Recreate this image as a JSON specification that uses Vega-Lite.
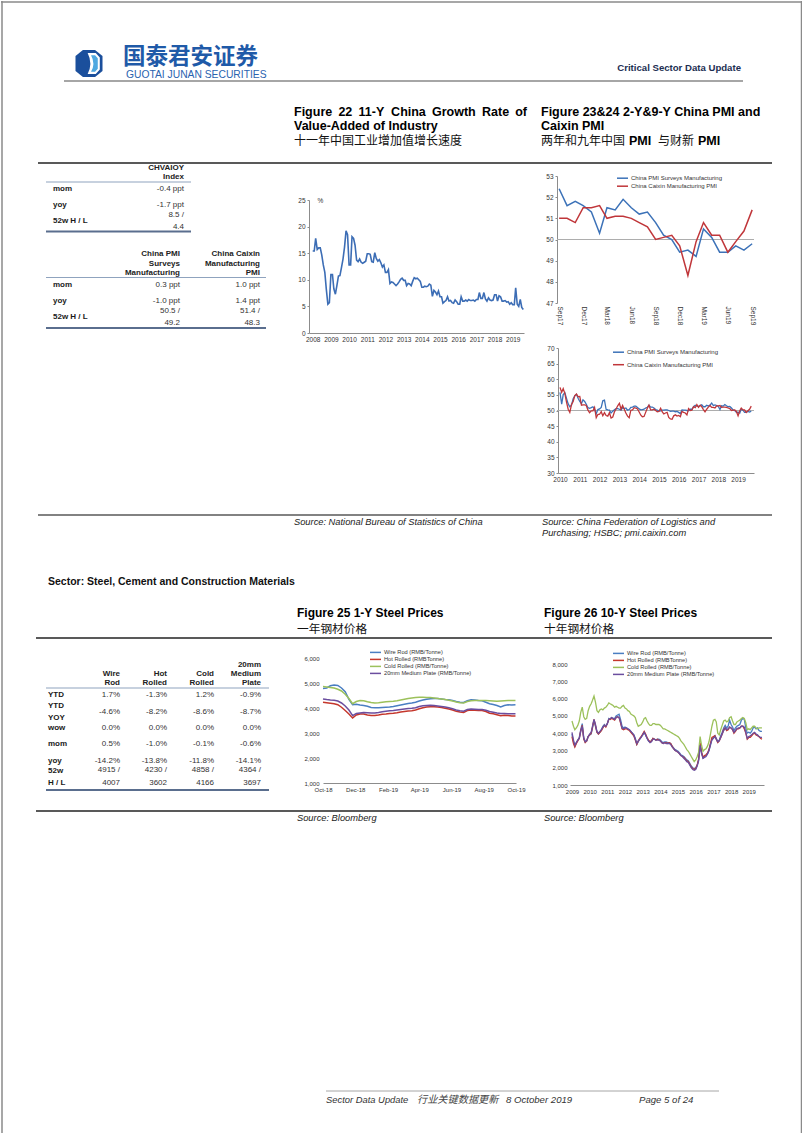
{
"$schema":"https://vega.github.io/schema/vega-lite/v6.json",
"padding":0,
"background":"#ffffff",
"columns":3,"align":"each","bounds":"flush","spacing":0,
"resolve":{"scale":{"color":"independent"},"legend":{"color":"independent"}},
"config":{
 "view":{"stroke":null},
 "font":"Liberation Sans",
 "axis":{"labelFont":"Liberation Sans","labelFontSize":6.5,"labelColor":"#333333","domainColor":"#8c8c8c","tickColor":"#8c8c8c","grid":false,"labelFlush":false,"labelOverlap":false,"labelBound":false},
 "legend":{"labelFont":"Liberation Sans"}
},
"concat":[
{
 "width":308,"height":162,
 "data":{"values":[{}]},
 "layer":[
  {"mark":{"type":"rule","color":"#8a8a8a","strokeWidth":1.5},"encoding":{"x":{"value":1},"y":{"value":0},"y2":{"value":1133}}},
  {"mark":{"type":"rule","color":"#8a8a8a","strokeWidth":1.5},"encoding":{"x":{"value":800.5},"y":{"value":0},"y2":{"value":1133}}},
  {"mark":{"type":"rule","color":"#8a8a8a","strokeWidth":1.5},"encoding":{"x":{"value":0},"x2":{"value":802},"y":{"value":1}}},
  {"mark":{"type":"point","shape":"M-0.45,-1L0.45,-1L1,-0.55L1,0.55L0.45,1L-0.45,1L-1,0.55L-1,-0.55Z","x":88,"y":62.5,"size":729,"filled":true,"fill":"#1B4F9C","opacity":1,"strokeWidth":0},"encoding":{}},
  {"mark":{"type":"point","shape":"M-0.1,-0.78L0.5,-0.78L0.8,-0.45L0.8,0.45L0.5,0.78L-0.1,0.78Q0.3,0 -0.1,-0.78Z","x":88,"y":62.5,"size":729,"filled":true,"fill":"#ffffff","opacity":1,"strokeWidth":0},"encoding":{}},
  {"mark":{"type":"point","shape":"M0.15,-0.62L0.45,-0.62L0.65,-0.38L0.65,0.38L0.45,0.62L0.15,0.62Q0.5,0 0.15,-0.62Z","x":88,"y":62.5,"size":729,"filled":true,"fill":"#4FA8E0","opacity":1,"strokeWidth":0},"encoding":{}},
  {"mark":{"type":"text","text":"国泰君安证券","x":122,"y":55.5,"align":"left","baseline":"middle","font":"Noto Sans CJK SC","fontSize":22.5,"fontWeight":"bold","fill":"#1F5AA8"},"encoding":{}},
  {"mark":{"type":"text","text":"GUOTAI JUNAN SECURITIES","x":125,"y":74,"align":"left","baseline":"middle","font":"Liberation Sans","fontSize":10.3,"fill":"#2A63AF"},"encoding":{}},
  {"mark":{"type":"text","text":"Critical Sector Data Update","x":740,"y":67,"align":"right","baseline":"middle","font":"Liberation Sans","fontSize":9.6,"fontWeight":"bold","fill":"#1C2E52"},"encoding":{}},
  {"mark":{"type":"rule","color":"#A6A6A6","strokeWidth":2},"encoding":{"x":{"value":63},"x2":{"value":742},"y":{"value":80}}},
  {"mark":{"type":"text","text":"Figure","x":293,"y":111,"align":"left","baseline":"middle","fontSize":12.5,"fontWeight":"bold","fill":"#000000"},"encoding":{}},
  {"mark":{"type":"text","text":"22","x":337.4,"y":111,"align":"left","baseline":"middle","fontSize":12.5,"fontWeight":"bold","fill":"#000000"},"encoding":{}},
  {"mark":{"type":"text","text":"11-Y","x":357.5,"y":111,"align":"left","baseline":"middle","fontSize":12.5,"fontWeight":"bold","fill":"#000000"},"encoding":{}},
  {"mark":{"type":"text","text":"China","x":390.1,"y":111,"align":"left","baseline":"middle","fontSize":12.5,"fontWeight":"bold","fill":"#000000"},"encoding":{}},
  {"mark":{"type":"text","text":"Growth","x":431,"y":111,"align":"left","baseline":"middle","fontSize":12.5,"fontWeight":"bold","fill":"#000000"},"encoding":{}},
  {"mark":{"type":"text","text":"Rate","x":481,"y":111,"align":"left","baseline":"middle","fontSize":12.5,"fontWeight":"bold","fill":"#000000"},"encoding":{}},
  {"mark":{"type":"text","text":"of","x":526,"y":111,"align":"right","baseline":"middle","fontSize":12.5,"fontWeight":"bold","fill":"#000000"},"encoding":{}},
  {"mark":{"type":"text","text":"Value-Added of Industry","x":293,"y":125,"align":"left","baseline":"middle","fontSize":12.5,"fontWeight":"bold","fill":"#000000"},"encoding":{}},
  {"mark":{"type":"text","text":"十一年中国工业增加值增长速度","x":293,"y":140,"align":"left","baseline":"middle","font":"Noto Sans CJK SC","fontSize":12,"fill":"#111111"},"encoding":{}},
  {"mark":{"type":"text","text":"Figure 23&24 2-Y&9-Y China PMI and","x":540,"y":111,"align":"left","baseline":"middle","fontSize":12.5,"fontWeight":"bold","fill":"#000000"},"encoding":{}},
  {"mark":{"type":"text","text":"Caixin PMI","x":540,"y":125,"align":"left","baseline":"middle","fontSize":12.5,"fontWeight":"bold","fill":"#000000"},"encoding":{}},
  {"mark":{"type":"text","text":"两年和九年中国","x":540,"y":140,"align":"left","baseline":"middle","font":"Noto Sans CJK SC","fontSize":12,"fill":"#111111"},"encoding":{}},
  {"mark":{"type":"text","text":"PMI","x":628,"y":140,"align":"left","baseline":"middle","fontSize":12.5,"fontWeight":"bold","fill":"#000000"},"encoding":{}},
  {"mark":{"type":"text","text":"与财新","x":657,"y":140,"align":"left","baseline":"middle","font":"Noto Sans CJK SC","fontSize":12,"fill":"#111111"},"encoding":{}},
  {"mark":{"type":"text","text":"PMI","x":697,"y":140,"align":"left","baseline":"middle","fontSize":12.5,"fontWeight":"bold","fill":"#000000"},"encoding":{}},
  {"mark":{"type":"rule","color":"#595959","strokeWidth":2},"encoding":{"x":{"value":37},"x2":{"value":771},"y":{"value":162}}}
 ]
},
{"width":248,"height":1,"data":{"values":[]},"mark":"point"},
{"width":1,"height":1,"data":{"values":[]},"mark":"point"},
{
 "width":308,"height":173,
 "data":{"values":[
  {"k":"h","tb":1,"r":"h1","c":"c1","t":"CHVAIOY\nIndex"},
  {"k":"l","r":"t1a","t":"mom"},{"k":"l","r":"t1b","t":"yoy"},{"k":"l","r":"t1c","t":"52w H / L"},
  {"k":"v","tb":1,"r":"t1a","c":"c1","t":"-0.4 ppt"},{"k":"v","tb":1,"r":"t1b","c":"c1","t":"-1.7 ppt"},{"k":"v","tb":1,"r":"t1c","c":"c1","t":"8.5 /\n4.4"},
  {"k":"h","tb":2,"r":"h2","c":"c1","t":"China PMI\nSurveys\nManufacturing"},{"k":"h","tb":2,"r":"h2","c":"c2","t":"China Caixin\nManufacturing\nPMI"},
  {"k":"l","r":"t2a","t":"mom"},{"k":"l","r":"t2b","t":"yoy"},{"k":"l","r":"t2c","t":"52w H / L"},
  {"k":"v","tb":2,"r":"t2a","c":"c1","t":"0.3 ppt"},{"k":"v","tb":2,"r":"t2a","c":"c2","t":"1.0 ppt"},
  {"k":"v","tb":2,"r":"t2b","c":"c1","t":"-1.0 ppt"},{"k":"v","tb":2,"r":"t2b","c":"c2","t":"1.4 ppt"},
  {"k":"v","tb":2,"r":"t2c","c":"c1","t":"50.5 /\n49.2"},{"k":"v","tb":2,"r":"t2c","c":"c2","t":"51.4 /\n48.3"}
 ]},
 "layer":[
  {"transform":[{"filter":"datum.k=='h' && datum.tb==1"}],
   "mark":{"type":"text","align":"right","baseline":"bottom","dx":4,"dy":-9.2,"fontSize":8,"fontWeight":"bold","lineHeight":9.2,"lineBreak":"\n","fill":"#222222"},
   "encoding":{"x":{"field":"c","type":"nominal","scale":{"type":"point","domain":["c1","c2"],"range":[179,259],"padding":0},"axis":null},
    "y":{"field":"r","type":"nominal","bandPosition":1,"scale":{"type":"band","domain":["h1","t1a","t1b","t1c","g1","g2","h2","t2a","t2b","t2c"],"range":[2,162],"paddingInner":0,"paddingOuter":0},"axis":null},
    "text":{"field":"t"}}},
  {"transform":[{"filter":"datum.k=='h' && datum.tb==2"}],
   "mark":{"type":"text","align":"right","baseline":"bottom","dy":-19,"fontSize":8,"fontWeight":"bold","lineHeight":9.5,"lineBreak":"\n","fill":"#222222"},
   "encoding":{"x":{"field":"c","type":"nominal","scale":{"type":"point","domain":["c1","c2"],"range":[179,259],"padding":0},"axis":null},
    "y":{"field":"r","type":"nominal","bandPosition":1,"scale":{"type":"band","domain":["h1","t1a","t1b","t1c","g1","g2","h2","t2a","t2b","t2c"],"range":[2,162],"paddingInner":0,"paddingOuter":0},"axis":null},
    "text":{"field":"t"}}},
  {"transform":[{"filter":"datum.k=='l'"}],
   "mark":{"type":"text","align":"left","baseline":"middle","x":52,"fontSize":8,"fontWeight":"bold","fill":"#1a1a1a"},
   "encoding":{"y":{"field":"r","type":"nominal","scale":{"type":"band","domain":["h1","t1a","t1b","t1c","g1","g2","h2","t2a","t2b","t2c"],"range":[2,162],"paddingInner":0,"paddingOuter":0},"axis":null},
    "text":{"field":"t"}}},
  {"transform":[{"filter":"datum.k=='v' && datum.tb==1 && indexof(datum.t,'\\n')<0"}],
   "mark":{"type":"text","align":"right","baseline":"middle","dx":4,"fontSize":8,"fill":"#333333"},
   "encoding":{"x":{"field":"c","type":"nominal","scale":{"type":"point","domain":["c1","c2"],"range":[179,259],"padding":0},"axis":null},
    "y":{"field":"r","type":"nominal","scale":{"type":"band","domain":["h1","t1a","t1b","t1c","g1","g2","h2","t2a","t2b","t2c"],"range":[2,162],"paddingInner":0,"paddingOuter":0},"axis":null},
    "text":{"field":"t"}}},
  {"transform":[{"filter":"datum.k=='v' && datum.tb==1 && indexof(datum.t,'\\n')>=0"}],
   "mark":{"type":"text","align":"right","baseline":"middle","dx":4,"dy":-6,"fontSize":8,"lineHeight":12,"lineBreak":"\n","fill":"#333333"},
   "encoding":{"x":{"field":"c","type":"nominal","scale":{"type":"point","domain":["c1","c2"],"range":[179,259],"padding":0},"axis":null},
    "y":{"field":"r","type":"nominal","scale":{"type":"band","domain":["h1","t1a","t1b","t1c","g1","g2","h2","t2a","t2b","t2c"],"range":[2,162],"paddingInner":0,"paddingOuter":0},"axis":null},
    "text":{"field":"t"}}},
  {"transform":[{"filter":"datum.k=='v' && datum.tb==2 && indexof(datum.t,'\\n')<0"}],
   "mark":{"type":"text","align":"right","baseline":"middle","fontSize":8,"fill":"#333333"},
   "encoding":{"x":{"field":"c","type":"nominal","scale":{"type":"point","domain":["c1","c2"],"range":[179,259],"padding":0},"axis":null},
    "y":{"field":"r","type":"nominal","scale":{"type":"band","domain":["h1","t1a","t1b","t1c","g1","g2","h2","t2a","t2b","t2c"],"range":[2,162],"paddingInner":0,"paddingOuter":0},"axis":null},
    "text":{"field":"t"}}},
  {"transform":[{"filter":"datum.k=='v' && datum.tb==2 && indexof(datum.t,'\\n')>=0"}],
   "mark":{"type":"text","align":"right","baseline":"middle","dy":-6,"fontSize":8,"lineHeight":12,"lineBreak":"\n","fill":"#333333"},
   "encoding":{"x":{"field":"c","type":"nominal","scale":{"type":"point","domain":["c1","c2"],"range":[179,259],"padding":0},"axis":null},
    "y":{"field":"r","type":"nominal","scale":{"type":"band","domain":["h1","t1a","t1b","t1c","g1","g2","h2","t2a","t2b","t2c"],"range":[2,162],"paddingInner":0,"paddingOuter":0},"axis":null},
    "text":{"field":"t"}}},
  {"data":{"values":[{}]},"mark":{"type":"rule","color":"#8FA3BE","strokeWidth":1},"encoding":{"x":{"value":45},"x2":{"value":190},"y":{"value":19}}},
  {"data":{"values":[{}]},"mark":{"type":"rule","color":"#5A6E8E","strokeWidth":2},"encoding":{"x":{"value":45},"x2":{"value":190},"y":{"value":68.5}}},
  {"data":{"values":[{}]},"mark":{"type":"rule","color":"#8FA3BE","strokeWidth":1},"encoding":{"x":{"value":45},"x2":{"value":265},"y":{"value":114.5}}},
  {"data":{"values":[{}]},"mark":{"type":"rule","color":"#5A6E8E","strokeWidth":2},"encoding":{"x":{"value":45},"x2":{"value":265},"y":{"value":165}}}
 ]
},
{
 "width":215,"height":170,
 "data":{"values":[
{"d":"2008-01","v":15.4},{"d":"2008-02","v":15.4},{"d":"2008-03","v":17.8},{"d":"2008-04","v":15.7},{"d":"2008-05","v":16.0},{"d":"2008-06","v":16.0},{"d":"2008-07","v":14.7},{"d":"2008-08","v":12.8},{"d":"2008-09","v":11.4},{"d":"2008-10","v":8.2},{"d":"2008-11","v":5.4},{"d":"2008-12","v":5.7},
{"d":"2009-01","v":11.0},{"d":"2009-02","v":11.0},{"d":"2009-03","v":8.3},{"d":"2009-04","v":7.3},{"d":"2009-05","v":8.9},{"d":"2009-06","v":10.7},{"d":"2009-07","v":10.8},{"d":"2009-08","v":12.3},{"d":"2009-09","v":13.9},{"d":"2009-10","v":16.1},{"d":"2009-11","v":19.2},{"d":"2009-12","v":18.5},
{"d":"2010-01","v":12.8},{"d":"2010-02","v":12.8},{"d":"2010-03","v":18.1},{"d":"2010-04","v":17.8},{"d":"2010-05","v":16.5},{"d":"2010-06","v":13.7},{"d":"2010-07","v":13.4},{"d":"2010-08","v":13.9},{"d":"2010-09","v":13.3},{"d":"2010-10","v":13.1},{"d":"2010-11","v":13.3},{"d":"2010-12","v":13.5},
{"d":"2011-01","v":14.9},{"d":"2011-02","v":14.9},{"d":"2011-03","v":14.8},{"d":"2011-04","v":13.4},{"d":"2011-05","v":13.3},{"d":"2011-06","v":15.1},{"d":"2011-07","v":14.0},{"d":"2011-08","v":13.5},{"d":"2011-09","v":13.8},{"d":"2011-10","v":13.2},{"d":"2011-11","v":12.4},{"d":"2011-12","v":12.8},
{"d":"2012-01","v":11.4},{"d":"2012-02","v":11.4},{"d":"2012-03","v":11.9},{"d":"2012-04","v":9.3},{"d":"2012-05","v":9.6},{"d":"2012-06","v":9.5},{"d":"2012-07","v":9.2},{"d":"2012-08","v":8.9},{"d":"2012-09","v":9.2},{"d":"2012-10","v":9.6},{"d":"2012-11","v":10.1},{"d":"2012-12","v":10.3},
{"d":"2013-01","v":9.9},{"d":"2013-02","v":9.9},{"d":"2013-03","v":8.9},{"d":"2013-04","v":9.3},{"d":"2013-05","v":9.2},{"d":"2013-06","v":8.9},{"d":"2013-07","v":9.7},{"d":"2013-08","v":10.4},{"d":"2013-09","v":10.2},{"d":"2013-10","v":10.3},{"d":"2013-11","v":10.0},{"d":"2013-12","v":9.7},
{"d":"2014-01","v":8.6},{"d":"2014-02","v":8.6},{"d":"2014-03","v":8.8},{"d":"2014-04","v":8.7},{"d":"2014-05","v":8.8},{"d":"2014-06","v":9.2},{"d":"2014-07","v":9.0},{"d":"2014-08","v":6.9},{"d":"2014-09","v":8.0},{"d":"2014-10","v":7.7},{"d":"2014-11","v":7.2},{"d":"2014-12","v":7.9},
{"d":"2015-01","v":6.8},{"d":"2015-02","v":6.8},{"d":"2015-03","v":5.6},{"d":"2015-04","v":5.9},{"d":"2015-05","v":6.1},{"d":"2015-06","v":6.8},{"d":"2015-07","v":6.0},{"d":"2015-08","v":6.1},{"d":"2015-09","v":5.7},{"d":"2015-10","v":5.6},{"d":"2015-11","v":6.2},{"d":"2015-12","v":5.9},
{"d":"2016-01","v":5.4},{"d":"2016-02","v":5.4},{"d":"2016-03","v":6.8},{"d":"2016-04","v":6.0},{"d":"2016-05","v":6.0},{"d":"2016-06","v":6.2},{"d":"2016-07","v":6.0},{"d":"2016-08","v":6.3},{"d":"2016-09","v":6.1},{"d":"2016-10","v":6.1},{"d":"2016-11","v":6.2},{"d":"2016-12","v":6.0},
{"d":"2017-01","v":6.3},{"d":"2017-02","v":6.3},{"d":"2017-03","v":7.6},{"d":"2017-04","v":6.5},{"d":"2017-05","v":6.5},{"d":"2017-06","v":7.6},{"d":"2017-07","v":6.4},{"d":"2017-08","v":6.0},{"d":"2017-09","v":6.6},{"d":"2017-10","v":6.2},{"d":"2017-11","v":6.1},{"d":"2017-12","v":6.2},
{"d":"2018-01","v":7.2},{"d":"2018-02","v":7.2},{"d":"2018-03","v":6.0},{"d":"2018-04","v":7.0},{"d":"2018-05","v":6.8},{"d":"2018-06","v":6.0},{"d":"2018-07","v":6.0},{"d":"2018-08","v":6.1},{"d":"2018-09","v":5.8},{"d":"2018-10","v":5.9},{"d":"2018-11","v":5.4},{"d":"2018-12","v":5.7},
{"d":"2019-01","v":5.3},{"d":"2019-02","v":5.3},{"d":"2019-03","v":8.5},{"d":"2019-04","v":5.4},{"d":"2019-05","v":5.0},{"d":"2019-06","v":6.3},{"d":"2019-07","v":4.8},{"d":"2019-08","v":4.4}
 ],"format":{"parse":{"d":"date:'%Y-%m'"}}},
 "mark":{"type":"line","color":"#3C6DB5","strokeWidth":1.6},
 "encoding":{
  "x":{"field":"d","type":"temporal","scale":{"domain":[{"year":2007,"month":10,"date":19},{"year":2019,"month":8,"date":15}]},
   "axis":{"title":null,"format":"%Y","tickCount":{"interval":"year","step":1},"ticks":false,"labelPadding":3}},
  "y":{"field":"v","type":"quantitative","scale":{"domain":[0,25],"range":[170,37]},
   "axis":{"title":"%","titleAngle":0,"titleX":8,"titleY":37,"titleAlign":"left","titleBaseline":"middle","titleFontSize":6.5,"titleFontWeight":"normal","titleFont":"Liberation Sans","titleColor":"#333333","values":[0,5,10,15,20,25],"tickSize":2,"labelPadding":2}}
 }
},
{
 "width":197,"height":140,
 "layer":[
  {"data":{"values":[{}]},"mark":{"type":"rule","color":"#ADADAD","strokeWidth":1},
   "encoding":{"y":{"datum":50,"type":"quantitative","scale":{"domain":[47,53],"range":[140,13]},"axis":{"title":null,"values":[47,48,49,50,51,52,53],"tickSize":2,"labelPadding":2}}}},
  {"data":{"values":[
{"d":"2017-09","p":52.4,"c":51.0},{"d":"2017-10","p":51.6,"c":51.0},{"d":"2017-11","p":51.8,"c":50.8},{"d":"2017-12","p":51.6,"c":51.5},
{"d":"2018-01","p":51.3,"c":51.5},{"d":"2018-02","p":50.3,"c":51.6},{"d":"2018-03","p":51.5,"c":51.0},{"d":"2018-04","p":51.4,"c":51.1},{"d":"2018-05","p":51.9,"c":51.1},{"d":"2018-06","p":51.5,"c":51.0},{"d":"2018-07","p":51.2,"c":50.8},{"d":"2018-08","p":51.3,"c":50.6},{"d":"2018-09","p":50.8,"c":50.0},{"d":"2018-10","p":50.2,"c":50.1},{"d":"2018-11","p":50.0,"c":50.2},{"d":"2018-12","p":49.4,"c":49.7},
{"d":"2019-01","p":49.5,"c":48.3},{"d":"2019-02","p":49.2,"c":49.9},{"d":"2019-03","p":50.5,"c":50.8},{"d":"2019-04","p":50.1,"c":50.2},{"d":"2019-05","p":49.4,"c":50.2},{"d":"2019-06","p":49.4,"c":49.4},{"d":"2019-07","p":49.7,"c":49.9},{"d":"2019-08","p":49.5,"c":50.4},{"d":"2019-09","p":49.8,"c":51.4}
   ],"format":{"parse":{"d":"date:'%Y-%m'"}}},
   "transform":[{"fold":["p","c"],"as":["s","v"]}],
   "mark":{"type":"line","strokeWidth":1.5},
   "encoding":{
    "x":{"field":"d","type":"temporal","scale":{"domain":[{"year":2017,"month":8,"date":24},{"year":2019,"month":9,"date":8}]},
     "axis":{"title":null,"format":"%b%y","values":[{"year":2017,"month":9,"date":1},{"year":2017,"month":12,"date":1},{"year":2018,"month":3,"date":1},{"year":2018,"month":6,"date":1},{"year":2018,"month":9,"date":1},{"year":2018,"month":12,"date":1},{"year":2019,"month":3,"date":1},{"year":2019,"month":6,"date":1},{"year":2019,"month":9,"date":1}],"labelAngle":90,"labelAlign":"left","labelBaseline":"middle","labelPadding":3,"domain":false,"ticks":false}},
    "y":{"field":"v","type":"quantitative","scale":{"domain":[47,53],"range":[140,13]},"axis":{"title":null,"values":[47,48,49,50,51,52,53],"tickSize":2,"labelPadding":2}},
    "color":{"field":"s","type":"nominal","scale":{"domain":["p","c"],"range":["#3C72B8","#C0363A"]},
     "legend":{"title":null,"orient":"none","legendX":64,"legendY":11.2,"direction":"vertical","symbolType":"M-2.67,0L1,0","symbolSize":36,"symbolStrokeWidth":1.5,"labelFontSize":6,"labelColor":"#333333","rowPadding":1,"labelOffset":2,"padding":0,
      "labelExpr":"datum.label == 'p' ? 'China PMI Surveys Manufacturing' : 'China Caixin Manufacturing PMI'"}}
   }}
 ]
},
{"width":1,"height":180,"data":{"values":[]},"mark":"point"},
{"width":1,"height":1,"data":{"values":[]},"mark":"point"},
{
 "width":197,"height":137,
 "layer":[
  {"data":{"values":[{}]},"mark":{"type":"rule","color":"#ADADAD","strokeWidth":1},
   "encoding":{"y":{"datum":50,"type":"quantitative","scale":{"domain":[30,70],"range":[137,12]},"axis":{"title":null,"values":[30,35,40,45,50,55,60,65,70],"tickSize":2,"labelPadding":2,"offset":-1}}}},
  {"data":{"values":[
{"d":"2010-01","p":55.8,"c":57.4},{"d":"2010-02","p":52.0,"c":55.8},{"d":"2010-03","p":55.1,"c":57.0},{"d":"2010-04","p":55.7,"c":55.4},{"d":"2010-05","p":53.9,"c":52.7},{"d":"2010-06","p":52.1,"c":50.4},{"d":"2010-07","p":51.2,"c":49.4},{"d":"2010-08","p":51.7,"c":51.9},{"d":"2010-09","p":53.8,"c":52.9},{"d":"2010-10","p":54.7,"c":54.8},{"d":"2010-11","p":55.2,"c":55.3},{"d":"2010-12","p":53.9,"c":54.4},
{"d":"2011-01","p":52.9,"c":54.5},{"d":"2011-02","p":52.2,"c":51.7},{"d":"2011-03","p":53.4,"c":51.8},{"d":"2011-04","p":52.9,"c":51.8},{"d":"2011-05","p":52.0,"c":51.6},{"d":"2011-06","p":50.9,"c":50.1},{"d":"2011-07","p":50.7,"c":49.3},{"d":"2011-08","p":50.9,"c":49.9},{"d":"2011-09","p":51.2,"c":49.9},{"d":"2011-10","p":50.4,"c":51.0},{"d":"2011-11","p":49.0,"c":47.7},{"d":"2011-12","p":50.3,"c":48.7},
{"d":"2012-01","p":50.5,"c":48.8},{"d":"2012-02","p":51.0,"c":49.6},{"d":"2012-03","p":53.1,"c":48.3},{"d":"2012-04","p":53.3,"c":49.3},{"d":"2012-05","p":50.4,"c":48.4},{"d":"2012-06","p":50.2,"c":48.2},{"d":"2012-07","p":50.1,"c":49.3},{"d":"2012-08","p":49.2,"c":47.6},{"d":"2012-09","p":49.8,"c":47.9},{"d":"2012-10","p":50.2,"c":49.5},{"d":"2012-11","p":50.6,"c":50.5},{"d":"2012-12","p":50.6,"c":51.5},
{"d":"2013-01","p":50.4,"c":52.3},{"d":"2013-02","p":50.1,"c":50.4},{"d":"2013-03","p":50.9,"c":51.6},{"d":"2013-04","p":50.6,"c":50.4},{"d":"2013-05","p":50.8,"c":49.2},{"d":"2013-06","p":50.1,"c":48.2},{"d":"2013-07","p":50.3,"c":47.7},{"d":"2013-08","p":51.0,"c":50.1},{"d":"2013-09","p":51.1,"c":50.2},{"d":"2013-10","p":51.4,"c":50.9},{"d":"2013-11","p":51.4,"c":50.8},{"d":"2013-12","p":51.0,"c":50.5},
{"d":"2014-01","p":50.5,"c":49.5},{"d":"2014-02","p":50.2,"c":48.5},{"d":"2014-03","p":50.3,"c":48.0},{"d":"2014-04","p":50.4,"c":48.1},{"d":"2014-05","p":50.8,"c":49.4},{"d":"2014-06","p":51.0,"c":50.7},{"d":"2014-07","p":51.7,"c":51.7},{"d":"2014-08","p":51.1,"c":50.2},{"d":"2014-09","p":51.1,"c":50.2},{"d":"2014-10","p":50.8,"c":50.4},{"d":"2014-11","p":50.3,"c":50.0},{"d":"2014-12","p":50.1,"c":49.6},
{"d":"2015-01","p":49.8,"c":49.7},{"d":"2015-02","p":49.9,"c":50.7},{"d":"2015-03","p":50.1,"c":49.6},{"d":"2015-04","p":50.1,"c":48.9},{"d":"2015-05","p":50.2,"c":49.2},{"d":"2015-06","p":50.2,"c":49.4},{"d":"2015-07","p":50.0,"c":47.8},{"d":"2015-08","p":49.7,"c":47.3},{"d":"2015-09","p":49.8,"c":47.2},{"d":"2015-10","p":49.8,"c":48.3},{"d":"2015-11","p":49.6,"c":48.6},{"d":"2015-12","p":49.7,"c":48.2},
{"d":"2016-01","p":49.4,"c":48.4},{"d":"2016-02","p":49.0,"c":48.0},{"d":"2016-03","p":50.2,"c":49.7},{"d":"2016-04","p":50.1,"c":49.4},{"d":"2016-05","p":50.1,"c":49.2},{"d":"2016-06","p":50.0,"c":48.6},{"d":"2016-07","p":49.9,"c":50.6},{"d":"2016-08","p":50.4,"c":50.0},{"d":"2016-09","p":50.4,"c":50.1},{"d":"2016-10","p":51.2,"c":51.2},{"d":"2016-11","p":51.7,"c":50.9},{"d":"2016-12","p":51.4,"c":51.9},
{"d":"2017-01","p":51.3,"c":51.0},{"d":"2017-02","p":51.6,"c":51.7},{"d":"2017-03","p":51.8,"c":51.2},{"d":"2017-04","p":51.2,"c":50.3},{"d":"2017-05","p":51.2,"c":49.6},{"d":"2017-06","p":51.7,"c":50.4},{"d":"2017-07","p":51.4,"c":51.1},{"d":"2017-08","p":51.7,"c":51.6},{"d":"2017-09","p":52.4,"c":51.0},{"d":"2017-10","p":51.6,"c":51.0},{"d":"2017-11","p":51.8,"c":50.8},{"d":"2017-12","p":51.6,"c":51.5},
{"d":"2018-01","p":51.3,"c":51.5},{"d":"2018-02","p":50.3,"c":51.6},{"d":"2018-03","p":51.5,"c":51.0},{"d":"2018-04","p":51.4,"c":51.1},{"d":"2018-05","p":51.9,"c":51.1},{"d":"2018-06","p":51.5,"c":51.0},{"d":"2018-07","p":51.2,"c":50.8},{"d":"2018-08","p":51.3,"c":50.6},{"d":"2018-09","p":50.8,"c":50.0},{"d":"2018-10","p":50.2,"c":50.1},{"d":"2018-11","p":50.0,"c":50.2},{"d":"2018-12","p":49.4,"c":49.7},
{"d":"2019-01","p":49.5,"c":48.3},{"d":"2019-02","p":49.2,"c":49.9},{"d":"2019-03","p":50.5,"c":50.8},{"d":"2019-04","p":50.1,"c":50.2},{"d":"2019-05","p":49.4,"c":50.2},{"d":"2019-06","p":49.4,"c":49.4},{"d":"2019-07","p":49.7,"c":49.9},{"d":"2019-08","p":49.5,"c":50.4},{"d":"2019-09","p":49.8,"c":51.4}
   ],"format":{"parse":{"d":"date:'%Y-%m'"}}},
   "transform":[{"fold":["p","c"],"as":["s","v"]}],
   "mark":{"type":"line","strokeWidth":1.3},
   "encoding":{
    "x":{"field":"d","type":"temporal","scale":{"domain":[{"year":2009,"month":11,"date":25},{"year":2019,"month":10,"date":22}],"range":[1,197]},
     "axis":{"title":null,"format":"%Y","tickCount":{"interval":"year","step":1},"ticks":false,"labelPadding":3}},
    "y":{"field":"v","type":"quantitative","scale":{"domain":[30,70],"range":[137,12]},"axis":{"title":null,"values":[30,35,40,45,50,55,60,65,70],"tickSize":2,"labelPadding":2,"offset":-1}},
    "color":{"field":"s","type":"nominal","scale":{"domain":["p","c"],"range":["#3C72B8","#C0363A"]},
     "legend":{"title":null,"orient":"none","legendX":60,"legendY":12.2,"direction":"vertical","symbolType":"M-2.67,0L1,0","symbolSize":36,"symbolStrokeWidth":1.5,"labelFontSize":6,"labelColor":"#333333","rowPadding":5.5,"labelOffset":2,"padding":0,
      "labelExpr":"datum.label == 'p' ? 'China PMI Surveys Manufacturing' : 'China Caixin Manufacturing PMI'"}}
   }}
 ]
},
{
 "width":308,"height":122,
 "data":{"values":[{}]},
 "layer":[
  {"mark":{"type":"rule","color":"#595959","strokeWidth":1.5},"encoding":{"x":{"value":37},"x2":{"value":771},"y":{"value":-1}}},
  {"mark":{"type":"text","text":"Source: National Bureau of Statistics of China","x":293,"y":5.5,"align":"left","baseline":"middle","fontSize":9.3,"fontStyle":"italic","fill":"#222222"},"encoding":{}},
  {"mark":{"type":"text","text":"Source: China Federation of Logistics and","x":541,"y":5.5,"align":"left","baseline":"middle","fontSize":9.3,"fontStyle":"italic","fill":"#222222"},"encoding":{}},
  {"mark":{"type":"text","text":"Purchasing; HSBC; pmi.caixin.com","x":541,"y":16.5,"align":"left","baseline":"middle","fontSize":9.3,"fontStyle":"italic","fill":"#222222"},"encoding":{}},
  {"mark":{"type":"text","text":"Sector: Steel, Cement and Construction Materials","x":47,"y":66,"align":"left","baseline":"middle","fontSize":10.5,"fontWeight":"bold","fill":"#111111"},"encoding":{}},
  {"mark":{"type":"text","text":"Figure 25 1-Y Steel Prices","x":296,"y":97,"align":"left","baseline":"middle","fontSize":12,"fontWeight":"bold","fill":"#000000"},"encoding":{}},
  {"mark":{"type":"text","text":"一年钢材价格","x":296,"y":113,"align":"left","baseline":"middle","font":"Noto Sans CJK SC","fontSize":11.7,"fill":"#111111"},"encoding":{}},
  {"mark":{"type":"text","text":"Figure 26 10-Y Steel Prices","x":543,"y":97,"align":"left","baseline":"middle","fontSize":12,"fontWeight":"bold","fill":"#000000"},"encoding":{}},
  {"mark":{"type":"text","text":"十年钢材价格","x":543,"y":113,"align":"left","baseline":"middle","font":"Noto Sans CJK SC","fontSize":11.7,"fill":"#111111"},"encoding":{}},
  {"mark":{"type":"rule","color":"#595959","strokeWidth":2},"encoding":{"x":{"value":35},"x2":{"value":771},"y":{"value":122}}}
 ]
},
{"width":1,"height":1,"data":{"values":[]},"mark":"point"},
{"width":1,"height":1,"data":{"values":[]},"mark":"point"},
{
 "width":308,"height":173,
 "data":{"values":[
  {"k":"h","r":"h","c":"wr","t":"Wire\nRod"},{"k":"h","r":"h","c":"hr","t":"Hot\nRolled"},{"k":"h","r":"h","c":"cr","t":"Cold\nRolled"},{"k":"h","r":"h","c":"mp","t":"20mm\nMedium\nPlate"},
  {"k":"l","r":"YTD","t":"YTD"},{"k":"l","r":"YTDYOY","t":"YTD\nYOY"},{"k":"l","r":"wow","t":"wow"},{"k":"l","r":"mom","t":"mom"},{"k":"l","r":"yoy","t":"yoy"},{"k":"l","r":"52w","t":"52w\nH / L"},
  {"k":"v","r":"YTD","c":"wr","t":"1.7%"},{"k":"v","r":"YTD","c":"hr","t":"-1.3%"},{"k":"v","r":"YTD","c":"cr","t":"1.2%"},{"k":"v","r":"YTD","c":"mp","t":"-0.9%"},
  {"k":"v","r":"YTDYOY","c":"wr","t":"-4.6%"},{"k":"v","r":"YTDYOY","c":"hr","t":"-8.2%"},{"k":"v","r":"YTDYOY","c":"cr","t":"-8.6%"},{"k":"v","r":"YTDYOY","c":"mp","t":"-8.7%"},
  {"k":"v","r":"wow","c":"wr","t":"0.0%"},{"k":"v","r":"wow","c":"hr","t":"0.0%"},{"k":"v","r":"wow","c":"cr","t":"0.0%"},{"k":"v","r":"wow","c":"mp","t":"0.0%"},
  {"k":"v","r":"mom","c":"wr","t":"0.5%"},{"k":"v","r":"mom","c":"hr","t":"-1.0%"},{"k":"v","r":"mom","c":"cr","t":"-0.1%"},{"k":"v","r":"mom","c":"mp","t":"-0.6%"},
  {"k":"v","r":"yoy","c":"wr","t":"-14.2%"},{"k":"v","r":"yoy","c":"hr","t":"-13.8%"},{"k":"v","r":"yoy","c":"cr","t":"-11.8%"},{"k":"v","r":"yoy","c":"mp","t":"-14.1%"},
  {"k":"v","r":"52w","c":"wr","t":"4915 /\n4007"},{"k":"v","r":"52w","c":"hr","t":"4230 /\n3602"},{"k":"v","r":"52w","c":"cr","t":"4858 /\n4166"},{"k":"v","r":"52w","c":"mp","t":"4364 /\n3697"}
 ]},
 "layer":[
  {"transform":[{"filter":"datum.k=='h' && datum.c!='mp'"}],
   "mark":{"type":"text","align":"right","baseline":"bottom","dy":-9.2,"fontSize":8,"fontWeight":"bold","lineHeight":9.2,"lineBreak":"\n","fill":"#222222"},
   "encoding":{"x":{"field":"c","type":"nominal","scale":{"type":"point","domain":["wr","hr","cr","mp"],"range":[119,260],"padding":0},"axis":null},
    "y":{"field":"r","type":"nominal","bandPosition":1,"scale":{"type":"band","domain":["h","YTD","YTDYOY","wow","mom","yoy","52w"],"range":[32.7,147],"paddingInner":0,"paddingOuter":0},"axis":null},
    "text":{"field":"t"}}},
  {"transform":[{"filter":"datum.k=='h' && datum.c=='mp'"}],
   "mark":{"type":"text","align":"right","baseline":"bottom","dy":-18.4,"fontSize":8,"fontWeight":"bold","lineHeight":9.2,"lineBreak":"\n","fill":"#222222"},
   "encoding":{"x":{"field":"c","type":"nominal","scale":{"type":"point","domain":["wr","hr","cr","mp"],"range":[119,260],"padding":0},"axis":null},
    "y":{"field":"r","type":"nominal","bandPosition":1,"scale":{"type":"band","domain":["h","YTD","YTDYOY","wow","mom","yoy","52w"],"range":[32.7,147],"paddingInner":0,"paddingOuter":0},"axis":null},
    "text":{"field":"t"}}},
  {"transform":[{"filter":"datum.k=='l' && indexof(datum.t,'\\n')<0"}],
   "mark":{"type":"text","align":"left","baseline":"middle","x":47,"fontSize":8,"fontWeight":"bold","fill":"#1a1a1a"},
   "encoding":{"y":{"field":"r","type":"nominal","scale":{"type":"band","domain":["h","YTD","YTDYOY","wow","mom","yoy","52w"],"range":[32.7,147],"paddingInner":0,"paddingOuter":0},"axis":null},
    "text":{"field":"t"}}},
  {"transform":[{"filter":"datum.k=='l' && indexof(datum.t,'\\n')>=0"}],
   "mark":{"type":"text","align":"left","baseline":"middle","x":47,"dy":-6,"fontSize":8,"fontWeight":"bold","lineHeight":12,"lineBreak":"\n","fill":"#1a1a1a"},
   "encoding":{"y":{"field":"r","type":"nominal","scale":{"type":"band","domain":["h","YTD","YTDYOY","wow","mom","yoy","52w"],"range":[32.7,147],"paddingInner":0,"paddingOuter":0},"axis":null},
    "text":{"field":"t"}}},
  {"transform":[{"filter":"datum.k=='v' && indexof(datum.t,'\\n')<0"}],
   "mark":{"type":"text","align":"right","baseline":"middle","fontSize":8,"fill":"#333333"},
   "encoding":{"x":{"field":"c","type":"nominal","scale":{"type":"point","domain":["wr","hr","cr","mp"],"range":[119,260],"padding":0},"axis":null},
    "y":{"field":"r","type":"nominal","scale":{"type":"band","domain":["h","YTD","YTDYOY","wow","mom","yoy","52w"],"range":[32.7,147],"paddingInner":0,"paddingOuter":0},"axis":null},
    "text":{"field":"t"}}},
  {"transform":[{"filter":"datum.k=='v' && indexof(datum.t,'\\n')>=0"}],
   "mark":{"type":"text","align":"right","baseline":"middle","dy":-6.5,"fontSize":8,"lineHeight":13,"lineBreak":"\n","fill":"#333333"},
   "encoding":{"x":{"field":"c","type":"nominal","scale":{"type":"point","domain":["wr","hr","cr","mp"],"range":[119,260],"padding":0},"axis":null},
    "y":{"field":"r","type":"nominal","scale":{"type":"band","domain":["h","YTD","YTDYOY","wow","mom","yoy","52w"],"range":[32.7,147],"paddingInner":0,"paddingOuter":0},"axis":null},
    "text":{"field":"t"}}},
  {"data":{"values":[{}]},"mark":{"type":"rule","color":"#8FA3BE","strokeWidth":1},"encoding":{"x":{"value":45},"x2":{"value":268},"y":{"value":50}}},
  {"data":{"values":[{}]},"mark":{"type":"rule","color":"#5A6E8E","strokeWidth":2},"encoding":{"x":{"value":45},"x2":{"value":268},"y":{"value":152}}}
 ]
},
{
 "width":207,"height":145,
 "data":{"values":[
{"d":"2018-10-01","wr":4780,"hr":4230,"cr":4858,"mp":4364},{"d":"2018-10-08","wr":4800,"hr":4210,"cr":4840,"mp":4340},{"d":"2018-10-15","wr":4890,"hr":4190,"cr":4820,"mp":4320},{"d":"2018-10-22","wr":4915,"hr":4170,"cr":4800,"mp":4310},{"d":"2018-10-29","wr":4900,"hr":4130,"cr":4750,"mp":4280},
{"d":"2018-11-05","wr":4800,"hr":4030,"cr":4680,"mp":4200},{"d":"2018-11-12","wr":4650,"hr":3900,"cr":4550,"mp":4080},{"d":"2018-11-19","wr":4350,"hr":3760,"cr":4380,"mp":3920},{"d":"2018-11-26","wr":4130,"hr":3602,"cr":4170,"mp":3697},
{"d":"2018-12-03","wr":4150,"hr":3720,"cr":4260,"mp":3780},{"d":"2018-12-10","wr":4120,"hr":3760,"cr":4300,"mp":3800},{"d":"2018-12-17","wr":4100,"hr":3760,"cr":4290,"mp":3820},{"d":"2018-12-24","wr":4070,"hr":3720,"cr":4250,"mp":3810},{"d":"2018-12-31","wr":4020,"hr":3700,"cr":4220,"mp":3800},
{"d":"2019-01-07","wr":4007,"hr":3700,"cr":4200,"mp":3800},{"d":"2019-01-14","wr":4010,"hr":3720,"cr":4210,"mp":3820},{"d":"2019-01-21","wr":4020,"hr":3750,"cr":4230,"mp":3850},{"d":"2019-01-28","wr":4030,"hr":3760,"cr":4250,"mp":3870},
{"d":"2019-02-04","wr":4040,"hr":3780,"cr":4260,"mp":3890},{"d":"2019-02-11","wr":4060,"hr":3790,"cr":4270,"mp":3900},{"d":"2019-02-18","wr":4090,"hr":3810,"cr":4290,"mp":3920},{"d":"2019-02-25","wr":4120,"hr":3840,"cr":4320,"mp":3940},
{"d":"2019-03-04","wr":4150,"hr":3860,"cr":4350,"mp":3960},{"d":"2019-03-11","wr":4180,"hr":3880,"cr":4380,"mp":3980},{"d":"2019-03-18","wr":4200,"hr":3890,"cr":4400,"mp":3990},{"d":"2019-03-25","wr":4230,"hr":3920,"cr":4420,"mp":4010},
{"d":"2019-04-01","wr":4280,"hr":3970,"cr":4430,"mp":4060},{"d":"2019-04-08","wr":4320,"hr":4010,"cr":4430,"mp":4090},{"d":"2019-04-15","wr":4350,"hr":4040,"cr":4420,"mp":4100},{"d":"2019-04-22","wr":4370,"hr":4050,"cr":4420,"mp":4110},{"d":"2019-04-29","wr":4380,"hr":4050,"cr":4400,"mp":4100},
{"d":"2019-05-06","wr":4380,"hr":4040,"cr":4380,"mp":4080},{"d":"2019-05-13","wr":4360,"hr":4020,"cr":4360,"mp":4060},{"d":"2019-05-20","wr":4340,"hr":3990,"cr":4340,"mp":4040},{"d":"2019-05-27","wr":4330,"hr":3960,"cr":4310,"mp":4010},
{"d":"2019-06-03","wr":4300,"hr":3920,"cr":4280,"mp":3970},{"d":"2019-06-10","wr":4260,"hr":3870,"cr":4240,"mp":3920},{"d":"2019-06-17","wr":4230,"hr":3840,"cr":4210,"mp":3890},{"d":"2019-06-24","wr":4220,"hr":3820,"cr":4200,"mp":3870},
{"d":"2019-07-01","wr":4290,"hr":3900,"cr":4260,"mp":3940},{"d":"2019-07-08","wr":4330,"hr":3920,"cr":4290,"mp":3960},{"d":"2019-07-15","wr":4320,"hr":3910,"cr":4300,"mp":3950},{"d":"2019-07-22","wr":4300,"hr":3900,"cr":4300,"mp":3940},{"d":"2019-07-29","wr":4290,"hr":3900,"cr":4300,"mp":3940},
{"d":"2019-08-05","wr":4230,"hr":3860,"cr":4300,"mp":3910},{"d":"2019-08-12","wr":4170,"hr":3790,"cr":4290,"mp":3860},{"d":"2019-08-19","wr":4140,"hr":3770,"cr":4280,"mp":3830},{"d":"2019-08-26","wr":4100,"hr":3730,"cr":4270,"mp":3800},
{"d":"2019-09-02","wr":4040,"hr":3690,"cr":4280,"mp":3780},{"d":"2019-09-09","wr":4100,"hr":3710,"cr":4290,"mp":3780},{"d":"2019-09-16","wr":4130,"hr":3700,"cr":4300,"mp":3770},{"d":"2019-09-23","wr":4120,"hr":3680,"cr":4300,"mp":3770},{"d":"2019-09-30","wr":4130,"hr":3680,"cr":4300,"mp":3770}
 ],"format":{"parse":{"d":"date:'%Y-%m-%d'"}}},
 "transform":[{"fold":["wr","hr","cr","mp"],"as":["s","v"]}],
 "mark":{"type":"line","strokeWidth":1.5},
 "encoding":{
  "x":{"field":"d","type":"temporal","scale":{"domain":[{"year":2018,"month":10,"date":1},{"year":2019,"month":10,"date":1}],"range":[14,207]},
   "axis":{"title":null,"format":"%b-%y","values":[{"year":2018,"month":10,"date":1},{"year":2018,"month":12,"date":1},{"year":2019,"month":2,"date":1},{"year":2019,"month":4,"date":1},{"year":2019,"month":6,"date":1},{"year":2019,"month":8,"date":1},{"year":2019,"month":10,"date":1}],"ticks":false,"labelPadding":3,"labelFontSize":6}},
  "y":{"field":"v","type":"quantitative","scale":{"domain":[1000,6000],"range":[145,20]},"axis":{"title":null,"values":[1000,2000,3000,4000,5000,6000],"format":",.0f","domain":false,"ticks":false,"labelPadding":4,"labelFontSize":6,"offset":-14}},
  "color":{"field":"s","type":"nominal","scale":{"domain":["wr","hr","cr","mp"],"range":["#4A7EC2","#C5372C","#9CC15B","#6B4E9F"]},
   "legend":{"title":null,"orient":"none","legendX":65,"legendY":10.4,"direction":"vertical","symbolType":"M-2.67,0L1,0","symbolSize":36,"symbolStrokeWidth":1.5,"labelFontSize":5.7,"labelColor":"#333333","rowPadding":0,"labelOffset":2,"padding":0,
    "labelExpr":"datum.label == 'wr' ? 'Wire Rod (RMB/Tonne)' : datum.label == 'hr' ? 'Hot Rolled  (RMBTonne)' : datum.label == 'cr' ? 'Cold Rolled  (RMB/Tonne)' : '20mm Medium Plate  (RMB/Tonne)'"}}
 }
},
{
 "width":207,"height":147,
 "data":{"values":[
{"d":"2009-01","cr":4700,"wr":3950,"hr":3800,"mp":4050},{"d":"2009-02","cr":4400,"wr":3500,"hr":3400,"mp":3600},{"d":"2009-03","cr":4200,"wr":3250,"hr":3200,"mp":3300},{"d":"2009-04","cr":4300,"wr":3450,"hr":3400,"mp":3450},{"d":"2009-05","cr":4450,"wr":3600,"hr":3550,"mp":3600},{"d":"2009-06","cr":4700,"wr":3750,"hr":3700,"mp":3700},{"d":"2009-07","cr":5200,"wr":4200,"hr":4150,"mp":4100},{"d":"2009-08","cr":5500,"wr":4550,"hr":4450,"mp":4400},{"d":"2009-09","cr":4950,"wr":3750,"hr":3650,"mp":3700},{"d":"2009-10","cr":4800,"wr":3500,"hr":3450,"mp":3500},{"d":"2009-11","cr":4850,"wr":3550,"hr":3550,"mp":3550},{"d":"2009-12","cr":5300,"wr":3800,"hr":3800,"mp":3800},
{"d":"2010-01","cr":5550,"wr":3900,"hr":3900,"mp":3950},{"d":"2010-02","cr":5700,"wr":3950,"hr":4000,"mp":4050},{"d":"2010-03","cr":5900,"wr":4300,"hr":4350,"mp":4400},{"d":"2010-04","cr":6150,"wr":4750,"hr":4800,"mp":4800},{"d":"2010-05","cr":5800,"wr":4400,"hr":4450,"mp":4500},{"d":"2010-06","cr":5300,"wr":4050,"hr":4050,"mp":4100},{"d":"2010-07","cr":5200,"wr":3950,"hr":3950,"mp":4000},{"d":"2010-08","cr":5350,"wr":4050,"hr":4050,"mp":4100},{"d":"2010-09","cr":5400,"wr":4200,"hr":4150,"mp":4200},{"d":"2010-10","cr":5350,"wr":4400,"hr":4300,"mp":4350},{"d":"2010-11","cr":5450,"wr":4500,"hr":4450,"mp":4450},{"d":"2010-12","cr":5500,"wr":4400,"hr":4350,"mp":4400},
{"d":"2011-01","cr":5600,"wr":4550,"hr":4550,"mp":4550},{"d":"2011-02","cr":5750,"wr":4850,"hr":4800,"mp":4800},{"d":"2011-03","cr":5700,"wr":4800,"hr":4800,"mp":4850},{"d":"2011-04","cr":5650,"wr":4900,"hr":4850,"mp":4900},{"d":"2011-05","cr":5600,"wr":4850,"hr":4800,"mp":4850},{"d":"2011-06","cr":5500,"wr":4850,"hr":4750,"mp":4800},{"d":"2011-07","cr":5550,"wr":5000,"hr":4900,"mp":4900},{"d":"2011-08","cr":5500,"wr":5050,"hr":4950,"mp":4950},{"d":"2011-09","cr":5450,"wr":5100,"hr":4900,"mp":4900},{"d":"2011-10","cr":5450,"wr":4800,"hr":4600,"mp":4650},{"d":"2011-11","cr":5550,"wr":4400,"hr":4250,"mp":4300},{"d":"2011-12","cr":5600,"wr":4300,"hr":4200,"mp":4250},
{"d":"2012-01","cr":5450,"wr":4350,"hr":4250,"mp":4300},{"d":"2012-02","cr":5400,"wr":4300,"hr":4250,"mp":4300},{"d":"2012-03","cr":5300,"wr":4250,"hr":4200,"mp":4250},{"d":"2012-04","cr":5250,"wr":4200,"hr":4150,"mp":4200},{"d":"2012-05","cr":5100,"wr":4100,"hr":4050,"mp":4100},{"d":"2012-06","cr":5050,"wr":4000,"hr":3950,"mp":4000},{"d":"2012-07","cr":5000,"wr":3900,"hr":3850,"mp":3900},{"d":"2012-08","cr":4900,"wr":3700,"hr":3600,"mp":3650},{"d":"2012-09","cr":4600,"wr":3350,"hr":3350,"mp":3400},{"d":"2012-10","cr":4400,"wr":3500,"hr":3550,"mp":3550},{"d":"2012-11","cr":4450,"wr":3650,"hr":3700,"mp":3650},{"d":"2012-12","cr":4500,"wr":3800,"hr":3800,"mp":3750},
{"d":"2013-01","cr":4650,"wr":3900,"hr":3950,"mp":3900},{"d":"2013-02","cr":4850,"wr":4050,"hr":4100,"mp":4050},{"d":"2013-03","cr":4900,"wr":3900,"hr":3950,"mp":3900},{"d":"2013-04","cr":4700,"wr":3700,"hr":3750,"mp":3700},{"d":"2013-05","cr":4550,"wr":3550,"hr":3600,"mp":3550},{"d":"2013-06","cr":4450,"wr":3500,"hr":3500,"mp":3450},{"d":"2013-07","cr":4450,"wr":3550,"hr":3550,"mp":3500},{"d":"2013-08","cr":4550,"wr":3700,"hr":3700,"mp":3650},{"d":"2013-09","cr":4550,"wr":3650,"hr":3650,"mp":3650},{"d":"2013-10","cr":4500,"wr":3600,"hr":3600,"mp":3600},{"d":"2013-11","cr":4500,"wr":3650,"hr":3650,"mp":3600},{"d":"2013-12","cr":4500,"wr":3650,"hr":3600,"mp":3600},
{"d":"2014-01","cr":4450,"wr":3600,"hr":3550,"mp":3550},{"d":"2014-02","cr":4350,"wr":3500,"hr":3450,"mp":3450},{"d":"2014-03","cr":4250,"wr":3450,"hr":3400,"mp":3400},{"d":"2014-04","cr":4250,"wr":3500,"hr":3450,"mp":3450},{"d":"2014-05","cr":4200,"wr":3500,"hr":3450,"mp":3400},{"d":"2014-06","cr":4150,"wr":3450,"hr":3400,"mp":3400},{"d":"2014-07","cr":4100,"wr":3450,"hr":3450,"mp":3400},{"d":"2014-08","cr":4050,"wr":3400,"hr":3400,"mp":3350},{"d":"2014-09","cr":4000,"wr":3250,"hr":3250,"mp":3200},{"d":"2014-10","cr":3950,"wr":3150,"hr":3100,"mp":3100},{"d":"2014-11","cr":3900,"wr":3050,"hr":3000,"mp":3000},{"d":"2014-12","cr":3850,"wr":3000,"hr":2950,"mp":2950},
{"d":"2015-01","cr":3800,"wr":2950,"hr":2900,"mp":2900},{"d":"2015-02","cr":3700,"wr":2850,"hr":2800,"mp":2800},{"d":"2015-03","cr":3550,"wr":2750,"hr":2700,"mp":2700},{"d":"2015-04","cr":3450,"wr":2700,"hr":2650,"mp":2650},{"d":"2015-05","cr":3350,"wr":2650,"hr":2600,"mp":2550},{"d":"2015-06","cr":3200,"wr":2550,"hr":2500,"mp":2450},{"d":"2015-07","cr":3050,"wr":2450,"hr":2400,"mp":2350},{"d":"2015-08","cr":2950,"wr":2400,"hr":2350,"mp":2300},{"d":"2015-09","cr":2800,"wr":2250,"hr":2200,"mp":2150},{"d":"2015-10","cr":2650,"wr":2100,"hr":2050,"mp":2000},{"d":"2015-11","cr":2500,"wr":2000,"hr":1950,"mp":1900},{"d":"2015-12","cr":2350,"wr":1950,"hr":1900,"mp":1850},
{"d":"2016-01","cr":2450,"wr":2000,"hr":1950,"mp":1900},{"d":"2016-02","cr":2650,"wr":2150,"hr":2150,"mp":2100},{"d":"2016-03","cr":2900,"wr":2450,"hr":2500,"mp":2400},{"d":"2016-04","cr":3800,"wr":3300,"hr":3450,"mp":3300},{"d":"2016-05","cr":3300,"wr":2900,"hr":2900,"mp":2800},{"d":"2016-06","cr":2950,"wr":2550,"hr":2600,"mp":2550},{"d":"2016-07","cr":3050,"wr":2650,"hr":2700,"mp":2600},{"d":"2016-08","cr":3100,"wr":2700,"hr":2750,"mp":2650},{"d":"2016-09","cr":3250,"wr":2800,"hr":2850,"mp":2800},{"d":"2016-10","cr":3500,"wr":3000,"hr":3050,"mp":3000},{"d":"2016-11","cr":3950,"wr":3300,"hr":3400,"mp":3350},{"d":"2016-12","cr":4400,"wr":3650,"hr":3750,"mp":3600},
{"d":"2017-01","cr":4750,"wr":3750,"hr":3800,"mp":3700},{"d":"2017-02","cr":4800,"wr":3850,"hr":3850,"mp":3800},{"d":"2017-03","cr":4650,"wr":3700,"hr":3650,"mp":3650},{"d":"2017-04","cr":4000,"wr":3500,"hr":3450,"mp":3500},{"d":"2017-05","cr":3900,"wr":3600,"hr":3550,"mp":3550},{"d":"2017-06","cr":4200,"wr":3850,"hr":3750,"mp":3750},{"d":"2017-07","cr":4450,"wr":4050,"hr":3950,"mp":3950},{"d":"2017-08","cr":4700,"wr":4300,"hr":4200,"mp":4150},{"d":"2017-09","cr":4750,"wr":4450,"hr":4300,"mp":4300},{"d":"2017-10","cr":4650,"wr":4300,"hr":4150,"mp":4200},{"d":"2017-11","cr":4700,"wr":4400,"hr":4200,"mp":4250},{"d":"2017-12","cr":4900,"wr":4750,"hr":4350,"mp":4350},
{"d":"2018-01","cr":4950,"wr":4500,"hr":4300,"mp":4300},{"d":"2018-02","cr":4700,"wr":4350,"hr":4200,"mp":4200},{"d":"2018-03","cr":4500,"wr":4150,"hr":4000,"mp":4050},{"d":"2018-04","cr":4500,"wr":4300,"hr":4100,"mp":4150},{"d":"2018-05","cr":4650,"wr":4400,"hr":4250,"mp":4250},{"d":"2018-06","cr":4700,"wr":4450,"hr":4250,"mp":4300},{"d":"2018-07","cr":4750,"wr":4500,"hr":4300,"mp":4300},{"d":"2018-08","cr":4850,"wr":4750,"hr":4400,"mp":4400},{"d":"2018-09","cr":4900,"wr":4850,"hr":4400,"mp":4400},{"d":"2018-10","cr":4850,"wr":4800,"hr":4250,"mp":4350},{"d":"2018-11","cr":4600,"wr":4300,"hr":4000,"mp":4050},{"d":"2018-12","cr":4200,"wr":4000,"hr":3650,"mp":3700},
{"d":"2019-01","cr":4250,"wr":4050,"hr":3750,"mp":3800},{"d":"2019-02","cr":4200,"wr":4000,"hr":3750,"mp":3850},{"d":"2019-03","cr":4300,"wr":4100,"hr":3850,"mp":3900},{"d":"2019-04","cr":4400,"wr":4300,"hr":3950,"mp":4000},{"d":"2019-05","cr":4400,"wr":4350,"hr":4000,"mp":4050},{"d":"2019-06","cr":4300,"wr":4250,"hr":3900,"mp":3950},{"d":"2019-07","cr":4250,"wr":4300,"hr":3850,"mp":3900},{"d":"2019-08","cr":4300,"wr":4150,"hr":3800,"mp":3800},{"d":"2019-09","cr":4300,"wr":4100,"hr":3700,"mp":3750},{"d":"2019-10","cr":4300,"wr":4100,"hr":3650,"mp":3750}
 ],"format":{"parse":{"d":"date:'%Y-%m'"}}},
 "transform":[{"fold":["wr","hr","cr","mp"],"as":["s","v"]}],
 "mark":{"type":"line","strokeWidth":1.3},
 "encoding":{
  "x":{"field":"d","type":"temporal","scale":{"domain":[{"year":2008,"month":11,"date":21},{"year":2019,"month":11,"date":12}],"range":[13,207]},
   "axis":{"title":null,"format":"%Y","tickCount":{"interval":"year","step":1},"ticks":false,"labelPadding":3,"labelFontSize":6}},
  "y":{"field":"v","type":"quantitative","scale":{"domain":[1000,8000],"range":[147,26]},"axis":{"title":null,"values":[1000,2000,3000,4000,5000,6000,7000,8000],"format":",.0f","domain":false,"ticks":false,"labelPadding":3,"labelFontSize":6,"offset":-13}},
  "color":{"field":"s","type":"nominal","scale":{"domain":["wr","hr","cr","mp"],"range":["#4A7EC2","#C5372C","#9CC15B","#6B4E9F"]},
   "legend":{"title":null,"orient":"none","legendX":60,"legendY":11.4,"direction":"vertical","symbolType":"M-2.67,0L1,0","symbolSize":36,"symbolStrokeWidth":1.5,"labelFontSize":5.7,"labelColor":"#333333","rowPadding":0,"labelOffset":2,"padding":0,
    "labelExpr":"datum.label == 'wr' ? 'Wire Rod (RMB/Tonne)' : datum.label == 'hr' ? 'Hot Rolled  (RMBTonne)' : datum.label == 'cr' ? 'Cold Rolled  (RMB/Tonne)' : '20mm Medium Plate  (RMB/Tonne)'"}}
 }
},
{
 "width":308,"height":323,
 "data":{"values":[{}]},
 "layer":[
  {"mark":{"type":"rule","color":"#595959","strokeWidth":2},"encoding":{"x":{"value":35},"x2":{"value":771},"y":{"value":0}}},
  {"mark":{"type":"text","text":"Source: Bloomberg","x":296,"y":6.5,"align":"left","baseline":"middle","fontSize":9.3,"fontStyle":"italic","fill":"#222222"},"encoding":{}},
  {"mark":{"type":"text","text":"Source: Bloomberg","x":543,"y":6.5,"align":"left","baseline":"middle","fontSize":9.3,"fontStyle":"italic","fill":"#222222"},"encoding":{}},
  {"mark":{"type":"rule","color":"#A6A6A6","strokeWidth":1},"encoding":{"x":{"value":325},"x2":{"value":718},"y":{"value":280}}},
  {"mark":{"type":"text","text":"Sector Data Update","x":325,"y":289,"align":"left","baseline":"middle","fontSize":9.4,"fontStyle":"italic","fill":"#333333"},"encoding":{}},
  {"mark":{"type":"text","text":"行业关键数据更新","x":416,"y":289,"align":"left","baseline":"middle","font":"Noto Sans CJK SC","fontSize":10.2,"fontStyle":"italic","fill":"#444444"},"encoding":{}},
  {"mark":{"type":"text","text":"8 October 2019","x":505,"y":289,"align":"left","baseline":"middle","fontSize":9.6,"fontStyle":"italic","fill":"#333333"},"encoding":{}},
  {"mark":{"type":"text","text":"Page 5 of 24","x":638,"y":289,"align":"left","baseline":"middle","fontSize":9.6,"fontStyle":"italic","fill":"#333333"},"encoding":{}}
 ]
},
{"width":1,"height":1,"data":{"values":[]},"mark":"point"},
{"width":1,"height":1,"data":{"values":[]},"mark":"point"}
]
}
